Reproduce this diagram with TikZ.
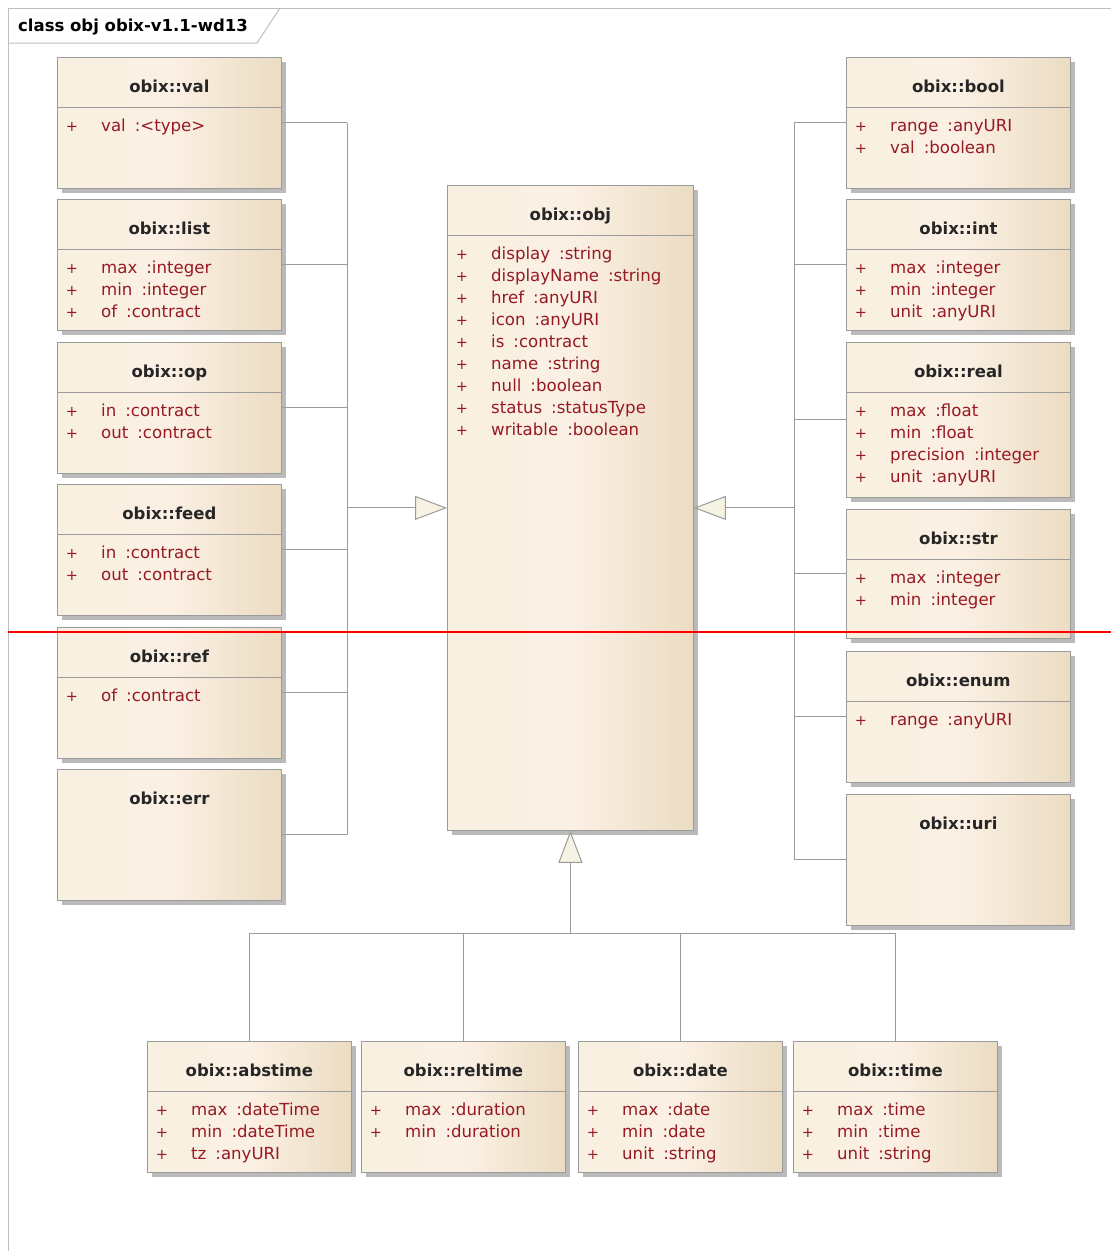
\documentclass[tikz,border=0pt]{standalone}
\usepackage{fontspec}
\setmainfont{DejaVu Sans}
\usetikzlibrary{calc,shadows,arrows.meta}

\definecolor{boxline}{RGB}{155,155,155}
\definecolor{boxleft}{RGB}{248,240,224}
\definecolor{boxmid}{RGB}{251,240,228}
\definecolor{boxright}{RGB}{235,220,194}
\definecolor{attrred}{RGB}{150,25,35}
\definecolor{tipfill}{RGB}{246,243,226}
\definecolor{framegrey}{RGB}{190,190,190}

% class box: name, north west corner, width, height, title
\newcommand{\umlbox}[5]{%
  \node[classbox, minimum width=#3pt, minimum height=#4pt] (#1) at (#2) {};
  \node[classtitle] (#1-title) at ($(#1.north)+(0,35)$) {#5};
}
% attribute compartment: name, list of name/type
\newcommand{\umlattrs}[2]{%
  \draw[boxline, line width=0.8pt] ($(#1.north west)+(0,50)$) -- ($(#1.north east)+(0,50)$);
  \foreach \aname/\atype [count=\i] in {#2} {
    \node[classplus] (#1-p\i) at ($(#1.north west)+(15,52+22*\i)$) {+};
    \node[classattr] (#1-a\i) at ($(#1.north west)+(44,52+22*\i)$) {\aname\hspace{9pt}:\atype};
  }
}

\begin{document}
\begin{tikzpicture}[x=1pt, y=-1pt,
  classbox/.style={draw=boxline, line width=0.8pt, left color=boxleft, right color=boxright,
    middle color=boxmid, anchor=north west, inner sep=0pt,
    general shadow={fill=black!27, shadow xshift=5pt, shadow yshift=-5pt}},
  classtitle/.style={anchor=base, inner sep=0pt, text=black!85,
    font=\bfseries\fontsize{16.5}{20}\selectfont},
  classattr/.style={anchor=base west, inner sep=0pt, text=attrred,
    font=\fontsize{16.6}{22}\selectfont},
  classplus/.style={anchor=base, inner sep=0pt, text=attrred,
    font=\fontsize{14.5}{14}\selectfont},
  conn/.style={draw=boxline, line width=1pt},
  gen/.style={conn, -{Triangle[length=32pt, width=24pt, fill=tipfill]}}]
\useasboundingbox (0,0) rectangle (1111,1251);

% frame
\draw[framegrey, line width=1pt] (8,1251) -- (8,8) -- (1111,8);
\draw[framegrey, line width=1pt] (8,43) -- (257,43) -- (280,8);
\node[anchor=base, inner sep=0pt, font=\bfseries\fontsize{16.5}{20}\selectfont] (framelabel) at (133,31) {class obj obix-v1.1-wd13};

% left column
\umlbox{val}{57,57}{224}{131}{obix::val}
\umlattrs{val}{val/{<type>}}
\umlbox{list}{57,199}{224}{131}{obix::list}
\umlattrs{list}{max/integer, min/integer, of/contract}
\umlbox{op}{57,342}{224}{131}{obix::op}
\umlattrs{op}{in/contract, out/contract}
\umlbox{feed}{57,484}{224}{131}{obix::feed}
\umlattrs{feed}{in/contract, out/contract}
\umlbox{ref}{57,627}{224}{131}{obix::ref}
\umlattrs{ref}{of/contract}
\umlbox{err}{57,769}{224}{131}{obix::err}

% right column
\umlbox{bool}{846,57}{224}{131}{obix::bool}
\umlattrs{bool}{range/anyURI, val/boolean}
\umlbox{int}{846,199}{224}{131}{obix::int}
\umlattrs{int}{max/integer, min/integer, unit/anyURI}
\umlbox{real}{846,342}{224}{155}{obix::real}
\umlattrs{real}{max/float, min/float, precision/integer, unit/anyURI}
\umlbox{str}{846,509}{224}{129}{obix::str}
\umlattrs{str}{max/integer, min/integer}
\umlbox{enum}{846,651}{224}{131}{obix::enum}
\umlattrs{enum}{range/anyURI}
\umlbox{uri}{846,794}{224}{131}{obix::uri}

% center
\umlbox{obj}{447,185}{246}{645}{obix::obj}
\umlattrs{obj}{display/string, displayName/string, href/anyURI, icon/anyURI, is/contract, name/string, null/boolean, status/statusType, writable/boolean}

% bottom row
\umlbox{abstime}{147,1041}{204}{131}{obix::abstime}
\umlattrs{abstime}{max/dateTime, min/dateTime, tz/anyURI}
\umlbox{reltime}{361,1041}{204}{131}{obix::reltime}
\umlattrs{reltime}{max/duration, min/duration}
\umlbox{date}{578,1041}{204}{131}{obix::date}
\umlattrs{date}{max/date, min/date, unit/string}
\umlbox{time}{793,1041}{204}{131}{obix::time}
\umlattrs{time}{max/time, min/time, unit/string}

% generalizations
\coordinate (lbus) at (347,0);
\coordinate (rbus) at (794,0);
\coordinate (bbus) at (0,933);
\foreach \c in {val,list,op,feed,ref,err}
  \draw[conn] (\c.east) -- (\c.east -| lbus);
\draw[conn] (val.east -| lbus) -- (err.east -| lbus);
\draw[gen] (obj.west -| lbus) -- (obj.west);
\foreach \c in {bool,int,real,str,enum,uri}
  \draw[conn] (\c.west) -- (\c.west -| rbus);
\draw[conn] (bool.west -| rbus) -- (uri.west -| rbus);
\draw[gen] (obj.east -| rbus) -- (obj.east);
\foreach \c in {abstime,reltime,date,time}
  \draw[conn] (\c.north) -- (\c.north |- bbus);
\draw[conn] (abstime.north |- bbus) -- (time.north |- bbus);
\draw[gen] (obj.south |- bbus) -- (obj.south);

% page break
\draw[red, line width=2pt] (8,632) -- (1111,632);
\end{tikzpicture}
\end{document}
